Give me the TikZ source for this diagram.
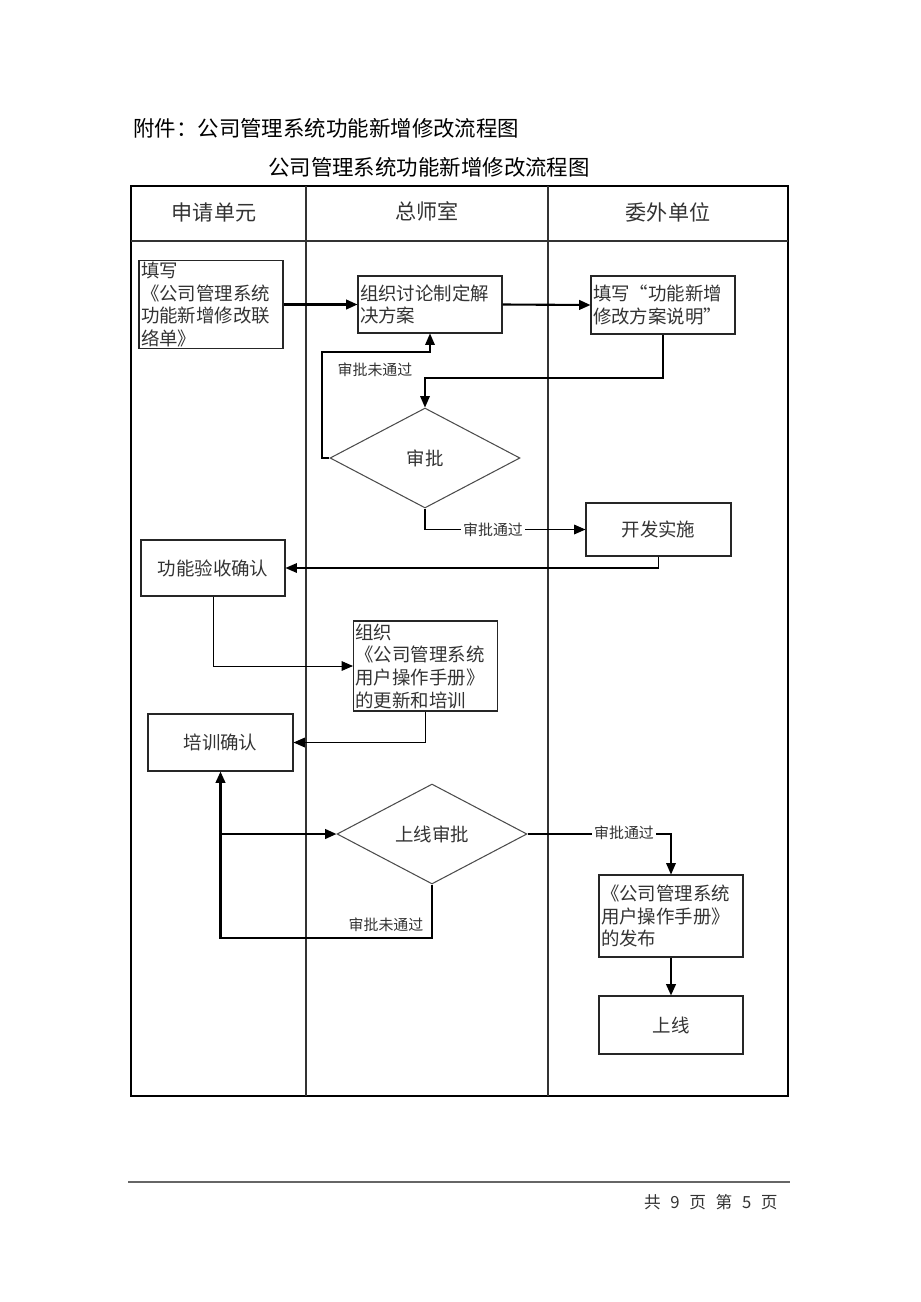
\documentclass[tikz,border=0pt]{standalone}
\usepackage{fontspec}
\setmainfont{Noto Sans CJK SC}
\usetikzlibrary{shapes.geometric,arrows.meta}

\begin{document}
\begin{tikzpicture}[x=0.02cm,y=-0.02cm,
    box/.style={draw=black!85,line width=0.6pt,text=black!80,font=\fontsize{10.5}{12.9}\selectfont,inner sep=1pt,minimum width=2.88cm},
    textbox/.style={box,align=left,text width=2.8cm},
    decide/.style={draw=black!70,line width=0.6pt,diamond,aspect=1.9,minimum width=3.8cm,minimum height=2cm,inner sep=0pt,text=black!80,font=\fontsize{10.5}{12.9}\selectfont},
    flow/.style={-{Triangle[length=6.5pt,width=5.5pt]},line width=0.7pt},
    bold/.style={flow,line width=1.2pt},
    tag/.style={fill=white,inner sep=1pt,text=black!80,font=\fontsize{8.5}{10}\selectfont},
    head/.style={text=black!80,font=\fontsize{12}{14}\selectfont}]
    \useasboundingbox (0,0) rectangle (920,1302);
    % titles
    \node[anchor=west,inner sep=0pt,font=\fontsize{12.2}{14}\selectfont] (title) at (133,128) {附件：公司管理系统功能新增修改流程图};
    \node[font=\fontsize{12.2}{14}\selectfont] (subtitle) at (429,167) {公司管理系统功能新增修改流程图};
    % lanes
    \draw[line width=0.9pt] (131,186) rectangle (788,1096);
    \draw[line width=0.6pt,black!80] (131,241) -- (788,241);
    \draw[line width=0.6pt,black!80] (306,186) -- (306,1096);
    \draw[line width=0.6pt,black!80] (548,186) -- (548,1096);
    \node[head] (lane1) at (214,212) {申请单元};
    \node[head] (lane2) at (427,211) {总师室};
    \node[head] (lane3) at (668,212) {委外单位};
    % steps
    \node[textbox,minimum height=1.7cm] (form) at (211,304.5) {填写\\《公司管理系统\\功能新增修改联\\络单》};
    \node[textbox,minimum height=1.14cm] (plan) at (430,304.5) {组织讨论制定解\\决方案};
    \node[textbox,minimum height=1.16cm] (spec) at (663,305) {填写“功能新增\\修改方案说明”};
    \node[decide] (check) at (425,458) {审批};
    \node[box,minimum width=2.9cm,minimum height=1.06cm] (dev) at (658.5,529.5) {开发实施};
    \node[box,minimum height=1.12cm] (accept) at (213,568) {功能验收确认};
    \node[textbox,minimum height=1.8cm] (train) at (425.5,666) {组织\\《公司管理系统\\用户操作手册》\\的更新和培训};
    \node[box,minimum width=2.9cm,minimum height=1.14cm] (trainok) at (220.5,742.5) {培训确认};
    \node[decide] (golive) at (432,834) {上线审批};
    \node[textbox,minimum height=1.64cm] (publish) at (671,916) {《公司管理系统\\用户操作手册》\\的发布};
    \node[box,minimum height=1.16cm] (online) at (671,1025) {上线};
    % connectors
    \draw[bold] (form.east) -- (plan.west);
    \draw[bold] (plan.east) -- (spec.west);
    \draw[flow] (spec.south) |- (425,378) -- (check.north);
    \draw[flow] (check.west) -- (322,458) -- (322,352) -| (plan.south);
    \node[tag,fill=none] (nopass1) at (375,370) {审批未通过};
    \draw[flow] (check.south) |- (dev.west);
    \node[tag] (pass1) at (493,530) {审批通过};
    \draw[flow] (dev.south) |- (accept.east);
    \draw[flow,line width=0.5pt] (accept.south) |- (train.west);
    \draw[flow] (train.south) |- (trainok.east);
    \draw[bold] (golive.south) -- (432,938) -| (trainok.south);
    \coordinate (fork) at (trainok.south |- golive.west);
    \draw[bold] (fork) -- (golive.west);
    \node[tag,fill=none] (nopass2) at (386,925) {审批未通过};
    \draw[flow] (golive.east) -| (publish.north);
    \node[tag] (pass2) at (624,833) {审批通过};
    \draw[bold] (publish.south) -- (online.north);
    % footer
    \draw[line width=0.8pt,black!60] (128,1182) -- (790,1182);
    \node[anchor=east,inner sep=0pt,font=\fontsize{9.5}{11}\selectfont,text=black!80] (page) at (778,1202) {共\hspace{5.5pt}9\hspace{5.5pt}页\hspace{5.5pt}第\hspace{5.5pt}5\hspace{5.5pt}页};
\end{tikzpicture}
\end{document}
